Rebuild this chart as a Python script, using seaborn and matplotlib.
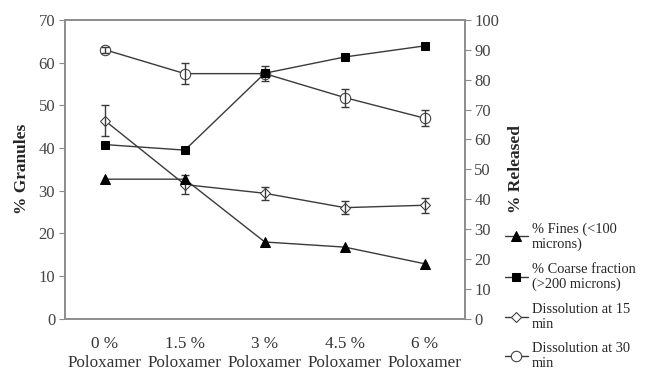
import matplotlib
matplotlib.use("Agg")
import matplotlib.pyplot as plt
import seaborn as sns
import pandas as pd

# categories
levels = ["0 %\nPoloxamer", "1.5 %\nPoloxamer", "3 %\nPoloxamer", "4.5 %\nPoloxamer", "6 %\nPoloxamer"]

# % granules (left axis)
fines = [32.7, 32.7, 18.0, 16.8, 12.9]
coarse = [40.8, 39.5, 57.5, 61.3, 63.9]

# % released (right axis)
diss_15 = [66.3, 44.9, 42.0, 37.2, 38.0]
diss_15_err = [5.2, 3.3, 2.2, 2.2, 2.5]
diss_30 = [90.0, 82.0, 82.0, 74.0, 67.1]
diss_30_err = [1.0, 3.4, 2.6, 3.0, 2.6]

sns.set_style("white")
plt.rcParams['font.family'] = ['Liberation Serif', 'DejaVu Serif']

gray = "#8c8c8c"
line_col = "#3a3a3a"

fig, ax = plt.subplots(figsize=(6.49, 3.81), dpi=100)
fig.subplots_adjust(left=0.1, right=0.716, top=0.948, bottom=0.163)
ax2 = ax.twinx()
# granule series drawn on top of the dissolution series
ax.set_zorder(ax2.get_zorder() + 1)
ax.patch.set_visible(False)

x = list(range(len(levels)))
df = pd.DataFrame({"x": x, "fines": fines, "coarse": coarse,
                   "d15": diss_15, "d30": diss_30})

sns.lineplot(data=df, x="x", y="fines", ax=ax, color=line_col, lw=1,
             marker="^", markersize=6.5, markerfacecolor="black",
             markeredgecolor="black", label="% Fines (<100\nmicrons)", legend=False)
sns.lineplot(data=df, x="x", y="coarse", ax=ax, color=line_col, lw=1,
             marker="s", markersize=6, markerfacecolor="black",
             markeredgecolor="black", label="% Coarse fraction\n(>200 microns)", legend=False)
sns.lineplot(data=df, x="x", y="d15", ax=ax2, color=line_col, lw=1,
             marker="D", markersize=5.5, markerfacecolor="white",
             markeredgecolor=line_col, label="Dissolution at 15\nmin", legend=False)
sns.lineplot(data=df, x="x", y="d30", ax=ax2, color=line_col, lw=1,
             marker="o", markersize=7.5, markerfacecolor="white",
             markeredgecolor=line_col, label="Dissolution at 30\nmin", legend=False)
ax2.errorbar(x, diss_15, yerr=diss_15_err, fmt="none", ecolor=line_col,
             elinewidth=1, capsize=3)
ax2.errorbar(x, diss_30, yerr=diss_30_err, fmt="none", ecolor=line_col,
             elinewidth=1, capsize=3)

# axes ranges / ticks
ax.set_xlim(-0.5, len(levels) - 0.5)
ax.set_ylim(0, 70)
ax2.set_ylim(0, 100)
ax.set_yticks(range(0, 71, 10))
ax2.set_yticks(range(0, 101, 10))
ax.set_xticks([i - 0.5 for i in range(len(levels) + 1)])
ax.set_xticklabels([])
ax.set_xticks(x, minor=True)
ax.set_xticklabels(levels, minor=True, fontsize=12.3, color="#333333", linespacing=1.25)
ax.tick_params(axis="x", which="minor", length=0, pad=12)
ax.tick_params(axis="x", which="major", length=4, color=gray, direction="out")
ax.tick_params(axis="y", length=4, color=gray, direction="out", labelsize=12,
               labelcolor="#444444", pad=3)
ax2.tick_params(axis="y", length=4, color=gray, direction="out", labelsize=12,
                labelcolor="#444444", pad=3)

for a in (ax, ax2):
    for s in a.spines.values():
        s.set_color(gray)
        s.set_linewidth(1.2)
    a.set_xlabel("")

ax.set_ylabel("% Granules", fontsize=12.5, fontweight="bold", labelpad=6)
ax2.set_ylabel("% Released", fontsize=12.5, fontweight="bold", labelpad=6)

h1, l1 = ax.get_legend_handles_labels()
h2, l2 = ax2.get_legend_handles_labels()
fig.legend(h1 + h2, l1 + l2, loc="upper left", bbox_to_anchor=(0.764, 0.44),
           frameon=False, fontsize=10.4, handlelength=1.6, handletextpad=0.3,
           labelspacing=0.8, borderaxespad=0.2)

fig.savefig("out.png", dpi=100)
